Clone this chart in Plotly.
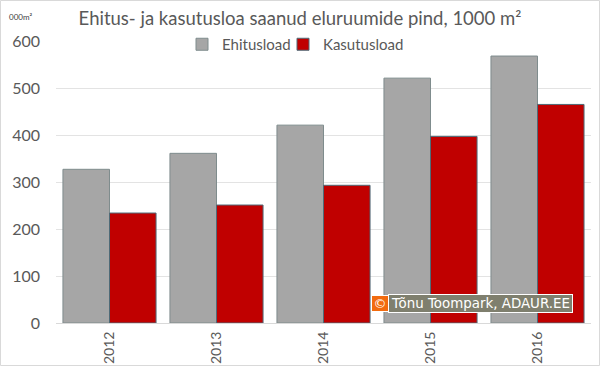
import plotly.graph_objects as go

years = ["2012", "2013", "2014", "2015", "2016"]
ehitusload = [327, 361, 421, 521, 568]
kasutusload = [234, 251, 293, 397, 465]
y_ticks = [0, 100, 200, 300, 400, 500, 600]
W, H = 600, 366
L, R, T, B = 56, 591, 41, 323

fig = go.Figure()
fig.add_bar(name="Ehitusload", x=years, y=ehitusload, legend="legend",
            marker=dict(color="#A6A6A6", line=dict(color="#7F8C8D", width=1)))
fig.add_bar(name="Kasutusload", x=years, y=kasutusload, legend="legend2",
            marker=dict(color="#C00000", line=dict(color="#4F6B78", width=1)))

def px(x): return x / W
def py(y): return 1 - y / H
def ax(x): return (x - L) / (R - L)
def ay(y): return (B - y) / (B - T)

legend_style = dict(orientation="h", xref="container", yref="container", xanchor="left", yanchor="top",
                    font=dict(size=15, color="#595959"), bgcolor="rgba(0,0,0,0)", itemwidth=30)

fig.update_layout(
    width=W, height=H, autosize=False,
    margin=dict(l=L, r=W - R, t=T, b=H - B, autoexpand=False),
    paper_bgcolor="white", plot_bgcolor="white",
    font=dict(family="Lato, sans-serif", color="#595959"),
    barmode="group", bargap=0.13, bargroupgap=0,
    showlegend=True,
    legend=dict(x=px(182), y=py(28), **legend_style),
    legend2=dict(x=px(283), y=py(28), **legend_style),
    title=dict(text="Ehitus- ja kasutusloa saanud eluruumide pind, 1000 m²",
               font=dict(size=18.5, color="#595959", family="Lato, sans-serif"),
               x=300 / W, xanchor="center", y=py(19), yanchor="middle", xref="container", yref="container"),
    xaxis=dict(type="category", tickangle=-90, tickfont=dict(size=14, color="#595959"), automargin=False,
               showline=True, linecolor="#D9D9D9", linewidth=1, ticks="", showgrid=False, ticklabelstandoff=2),
    yaxis=dict(range=[0, 600], tickvals=y_ticks, tickfont=dict(size=16, color="#595959"), automargin=False,
               showgrid=True, gridcolor="#E3E3E3", gridwidth=1, zeroline=False, ticks="", ticklabelstandoff=15),
    shapes=[
        dict(type="rect", xref="paper", yref="paper", x0=ax(0.5), x1=ax(W - 0.5),
             y0=ay(H - 0.5), y1=ay(0.5),
             line=dict(color="#D9D9D9", width=1), fillcolor="rgba(0,0,0,0)", layer="below"),
    ],
    annotations=[
        dict(text="000m²", xref="paper", yref="paper", x=ax(7), y=ay(17), xanchor="left", yanchor="middle",
             showarrow=False, font=dict(size=8, color="#404040", family="Lato, sans-serif")),
        dict(text="Tõnu Toompark, ADAUR.EE", xref="paper", yref="paper",
             x=ax(388), y=ay(303), xanchor="left", yanchor="middle", showarrow=False,
             font=dict(size=13.4, color="white", family="DejaVu Sans"), bgcolor="#7F7F6E",
             bordercolor="white", borderwidth=1, borderpad=1, width=181, height=15, align="center"),
        dict(text="©", xref="paper", yref="paper",
             x=ax(371), y=ay(303), xanchor="left", yanchor="middle", showarrow=False,
             font=dict(size=13, color="white", family="DejaVu Sans"), bgcolor="#F26B0F",
             bordercolor="white", borderwidth=1, borderpad=0, width=16, height=15, align="center"),
    ],
)
fig.write_html("out.html", config={"displayModeBar": False},
               post_script="document.body.style.margin='0';document.documentElement.style.overflow='hidden';")
